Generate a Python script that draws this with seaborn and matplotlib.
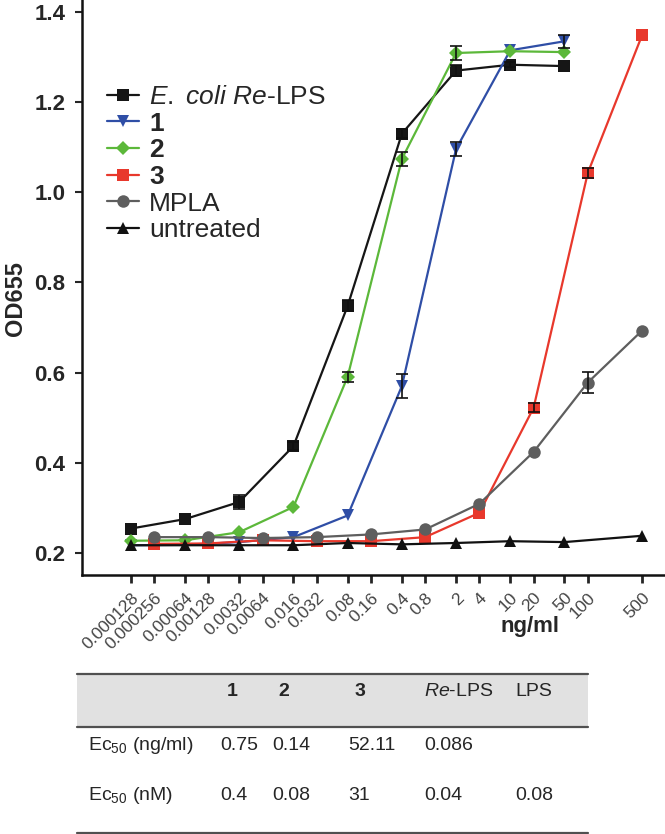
import numpy as np
import pandas as pd
import matplotlib
matplotlib.use("Agg")
import matplotlib.pyplot as plt
import seaborn as sns

# ---------------------------------------------------------
# data
# ---------------------------------------------------------
tick_conc = [0.000128, 0.000256, 0.00064, 0.00128, 0.0032, 0.0064, 0.016, 0.032,
             0.08, 0.16, 0.4, 0.8, 2, 4, 10, 20, 50, 100, 500]
tick_text = ["0.000128", "0.000256", "0.00064", "0.00128", "0.0032", "0.0064",
             "0.016", "0.032", "0.08", "0.16", "0.4", "0.8", "2", "4", "10",
             "20", "50", "100", "500"]

conc_a = [0.000128, 0.00064, 0.0032, 0.016, 0.08, 0.4, 2, 10, 50]
conc_b = [0.000256, 0.00128, 0.0064, 0.032, 0.16, 0.8, 4, 20, 100, 500]
conc_u = [0.000128, 0.00064, 0.0032, 0.016, 0.08, 0.4, 2, 10, 50, 500]

relps_od = [0.254, 0.275, 0.313, 0.437, 0.748, 1.130, 1.270, 1.283, 1.280]
relps_err = [0, 0, 0.015, 0.008, 0.012, 0.010, 0.012, 0.005, 0]
cmpd1_od = [0.217, 0.218, 0.224, 0.235, 0.283, 0.570, 1.096, 1.315, 1.335]
cmpd1_err = [0, 0, 0, 0, 0, 0.027, 0.015, 0, 0.015]
cmpd2_od = [0.227, 0.228, 0.246, 0.302, 0.591, 1.074, 1.309, 1.313, 1.311]
cmpd2_err = [0, 0, 0, 0, 0.011, 0.015, 0.015, 0, 0]
cmpd3_od = [0.220, 0.221, 0.228, 0.226, 0.226, 0.235, 0.289, 0.522, 1.043, 1.348]
cmpd3_err = [0, 0, 0, 0, 0, 0, 0, 0.010, 0.012, 0]
mpla_od = [0.235, 0.235, 0.233, 0.235, 0.241, 0.252, 0.309, 0.424, 0.578, 0.693]
mpla_err = [0, 0, 0, 0, 0, 0, 0, 0, 0.023, 0]
untr_od = [0.217, 0.217, 0.217, 0.217, 0.222, 0.219, 0.222, 0.226, 0.224, 0.238]

series_names = [r"$\mathit{E.\ coli\ Re}$-LPS", "1", "2", "3", "MPLA", "untreated"]
series_conc = [conc_a, conc_a, conc_a, conc_b, conc_b, conc_u]
series_od = [relps_od, cmpd1_od, cmpd2_od, cmpd3_od, mpla_od, untr_od]
series_err = [relps_err, cmpd1_err, cmpd2_err, cmpd3_err, mpla_err, [0] * len(conc_u)]
series_colors = ["#161616", "#2f4ea6", "#5cb83a", "#e8382c", "#5e5e5e", "#111111"]
series_markers = ["s", "v", "D", "s", "o", "^"]

table_cols = ["1", "2", "3", "Re-LPS", "LPS"]
ec50_ngml = ["0.75", "0.14", "52.11", "0.086", ""]
ec50_nm = ["0.4", "0.08", "31", "0.04", "0.08"]

# ---------------------------------------------------------
# long table for seaborn
# ---------------------------------------------------------
frames = []
for name, xs, ys in zip(series_names, series_conc, series_od):
    frames.append(pd.DataFrame({"conc": xs, "od": ys, "series": name}))
df = pd.concat(frames, ignore_index=True)

sns.set_style("ticks")
plt.rcParams["font.family"] = ["Liberation Sans", "DejaVu Sans"]
plt.rcParams["mathtext.fontset"] = "custom"
plt.rcParams["mathtext.rm"] = "Liberation Sans"
plt.rcParams["mathtext.it"] = "Liberation Sans:italic"
plt.rcParams["mathtext.bf"] = "Liberation Sans:bold"

W, H = 665, 834
fig = plt.figure(figsize=(W / 100, H / 100), dpi=100)
ax = fig.add_axes([82 / W, 1 - 575 / H, (W - 82) / W, 575 / H])
ax.set_xscale("log")

sns.lineplot(
    data=df, x="conc", y="od", hue="series", style="series",
    hue_order=series_names, style_order=series_names,
    palette=dict(zip(series_names, series_colors)),
    markers=dict(zip(series_names, series_markers)),
    dashes=False, markersize=9, markeredgewidth=0, linewidth=1.6,
    errorbar=None, ax=ax,
)
# diamonds read smaller than the squares in the original
for ln in ax.lines:
    if ln.get_marker() == "D":
        ln.set_markersize(7)

for xs, ys, es in zip(series_conc, series_od, series_err):
    xs, ys, es = np.array(xs), np.array(ys), np.array(es)
    keep = es > 0
    if keep.any():
        ax.errorbar(xs[keep], ys[keep], yerr=es[keep], fmt="none", ecolor="#111111",
                    elinewidth=1.2, capsize=4.5, capthick=1.2, zorder=5)

ax.set_xlim(3.0e-5, 990)
ax.set_ylim(0.151, 1.4266)
ax.set_xticks(tick_conc)
ax.set_xticklabels(tick_text, rotation=45, ha="right", rotation_mode="anchor",
                   fontsize=12.5, color="#444444")
ax.xaxis.set_minor_locator(matplotlib.ticker.NullLocator())
ax.set_yticks([0.2, 0.4, 0.6, 0.8, 1.0, 1.2, 1.4])
ax.set_yticklabels(["0.2", "0.4", "0.6", "0.8", "1.0", "1.2", "1.4"],
                   fontsize=16, fontweight="bold")
ax.tick_params(axis="x", length=6, width=2, pad=5)
ax.tick_params(axis="y", length=5, width=1.5, pad=7)
for s in ["top", "right"]:
    ax.spines[s].set_visible(False)
for s in ["left", "bottom"]:
    ax.spines[s].set_linewidth(1.8)
    ax.spines[s].set_color("#111111")

ax.set_ylabel("OD655", fontsize=17, fontweight="bold")
ax.yaxis.set_label_coords(-0.094, 0.48)
ax.set_xlabel("ng/ml", fontsize=16, fontweight="bold")
ax.xaxis.set_label_coords(0.768, -0.072)

handles, labels = ax.get_legend_handles_labels()
leg = ax.legend(handles, labels, loc="upper left", bbox_to_anchor=(107 / W, 1 - 85 / H),
                bbox_transform=fig.transFigure, frameon=False, fontsize=19,
                handlelength=1.2, handletextpad=0.4, labelspacing=0.1,
                borderpad=0, borderaxespad=0)
for i in (1, 2, 3):
    leg.get_texts()[i].set_fontweight("bold")

# ---------------------------------------------------------
# EC50 table under the chart
# ---------------------------------------------------------
def fx(px):
    return px / W

def fy(py):
    return 1 - py / H

fig.patches.append(plt.Rectangle((fx(77), fy(727)), fx(588) - fx(77), fy(674) - fy(727),
                                 transform=fig.transFigure, facecolor="#e1e1e1",
                                 edgecolor="none", zorder=0))
for py in (674, 727, 833):
    fig.add_artist(plt.Line2D([fx(77), fx(588)], [fy(py), fy(py)], transform=fig.transFigure,
                              color="#505050", linewidth=1.6))

col_left = [220, 272, 348, 424, 515]
tsize = 14
for i, c in enumerate(table_cols):
    if c in ("1", "2", "3"):
        fig.text(fx(col_left[i] + 12), fy(691), c, ha="center", va="center",
                 fontsize=tsize, fontweight="bold")
    elif c == "Re-LPS":
        fig.text(fx(col_left[i]), fy(691), r"$\mathit{Re}$-LPS", ha="left", va="center",
                 fontsize=tsize)
    else:
        fig.text(fx(col_left[i]), fy(691), c, ha="left", va="center", fontsize=tsize)

fig.text(fx(88), fy(746), r"Ec$_{50}$ (ng/ml)", ha="left", va="center", fontsize=tsize)
fig.text(fx(88), fy(796), r"Ec$_{50}$ (nM)", ha="left", va="center", fontsize=tsize)
for i in range(len(table_cols)):
    fig.text(fx(col_left[i]), fy(746), ec50_ngml[i], ha="left", va="center", fontsize=tsize)
    fig.text(fx(col_left[i]), fy(796), ec50_nm[i], ha="left", va="center", fontsize=tsize)

fig.savefig("out.png", dpi=100)
